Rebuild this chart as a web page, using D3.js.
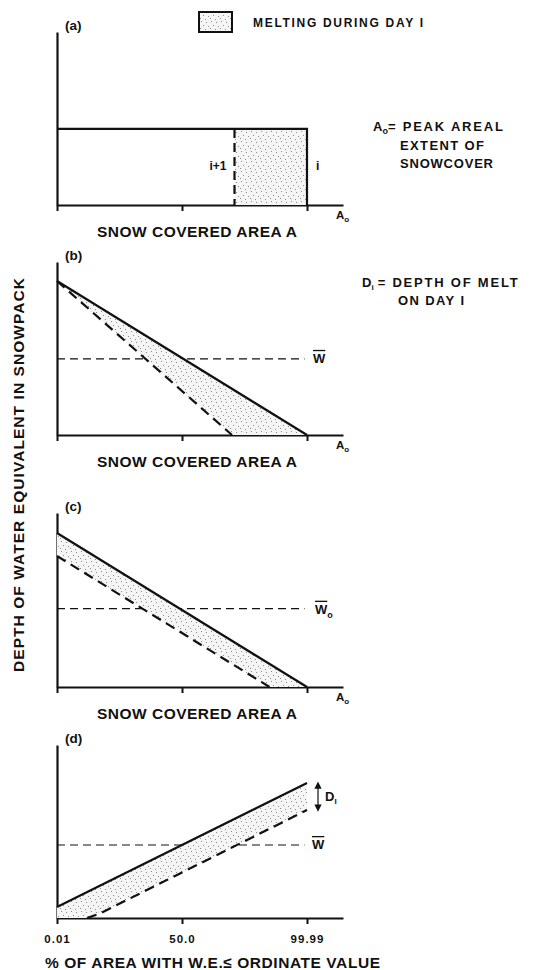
<!DOCTYPE html>
<html>
<head>
<meta charset="utf-8">
<script src="https://cdn.jsdelivr.net/npm/d3@7"></script>
<style>
  html, body { margin: 0; padding: 0; background: #fff; }
  svg { display: block; }
  text { font-family: "Liberation Sans", Arial, sans-serif; font-weight: bold; fill: #111; }
</style>
</head>
<body>
<script>
// Areal depletion of snowcover: four schematic panels.
// x values are fractions of the peak areal extent A0 (0..1), y values are
// relative water-equivalent depth (0..1).

const panelLetters = ["(a)", "(b)", "(c)", "(d)"];
const xTickValues = [0, 0.5, 1];
const probTickLabels = ["0.01", "50.0", "99.99"];

// (a) uniform snowpack: depth and snow-covered extent on day i and day i+1
const uniformDepth = 0.44;
const extentDayI = 1.0;
const extentDayI1 = 0.71;

// (b) depth vs covered area, same maximum depth
const bDayI = [[0, 0.89], [1, 0]];
const bDayI1 = [[0, 0.89], [0.70, 0]];
const bMean = 0.44;

// (c) depth vs covered area, uniform melt
const cDayI = [[0, 0.885], [1, 0]];
const cDayI1 = [[0, 0.753], [0.85, 0]];
const cMean = 0.45;

// (d) depth vs cumulative probability of area
const dDayI = [[0, 0.064], [1, 0.78]];
const dDayI1 = [[0.12, 0], [0.17, 0.025], [1, 0.624]];
const dMean = 0.422;

const W = 552, H = 970;
const svg = d3.select("body").append("svg").attr("width", W).attr("height", H);

// Stipple fill for the melt area
const defs = svg.append("defs");
const pat = defs.append("pattern").attr("id", "stipple")
  .attr("patternUnits", "userSpaceOnUse").attr("width", 10).attr("height", 10);
pat.append("rect").attr("width", 10).attr("height", 10).attr("fill", "#f5f5f5");
[[1,1],[6,2],[3,5],[8,6],[0,8],[5,9]].forEach(([px, py]) =>
  pat.append("rect").attr("x", px).attr("y", py).attr("width", 1).attr("height", 1).attr("fill", "#8a8a8a"));

const arrowMarker = (id, orient) => defs.append("marker").attr("id", id)
  .attr("viewBox", "0 0 10 10").attr("refX", 5).attr("refY", 5)
  .attr("markerWidth", 6).attr("markerHeight", 6).attr("orient", orient)
  .append("path").attr("d", "M0,0 L10,5 L0,10 z").attr("fill", "#111");
arrowMarker("arrowEnd", "auto");
arrowMarker("arrowStart", "auto-start-reverse");

const x = d3.scaleLinear().domain([0, 1]).range([57, 307]);
const xAxisEnd = 1.144;

const layout = [
  { top: 32, base: 205 },
  { top: 262, base: 435 },
  { top: 513, base: 687 },
  { top: 745, base: 918 }
];

function drawFrame(i, withTickLabels) {
  const { top, base } = layout[i];
  const y = d3.scaleLinear().domain([0, 1]).range([base, top]);
  const g = svg.append("g");

  const xs = d3.scaleLinear().domain([0, xAxisEnd]).range([x(0), x(xAxisEnd)]);
  const ax = d3.axisBottom(xs).tickValues(xTickValues).tickSize(6).tickSizeOuter(0)
    .tickFormat(withTickLabels ? (d, k) => probTickLabels[k] : () => "");
  const axG = g.append("g").attr("transform", `translate(0,${base})`).call(ax);
  axG.select(".domain").attr("stroke", "#111").attr("stroke-width", 2.2);
  axG.selectAll(".tick line").attr("stroke", "#111").attr("stroke-width", 2);
  axG.selectAll(".tick text").attr("dy", 0).attr("y", 25)
    .style("font-family", "'Liberation Sans', Arial, sans-serif")
    .style("font-weight", "bold").style("font-size", "11.5px").attr("fill", "#111")
    .attr("letter-spacing", "1px");

  const ay = d3.axisLeft(y).tickValues([]).tickSizeOuter(0);
  const ayG = g.append("g").attr("transform", `translate(${x(0)},0)`).call(ay);
  ayG.select(".domain").attr("stroke", "#111").attr("stroke-width", 2.2);

  g.append("text").attr("x", x(0) + 8).attr("y", top - 2)
    .style("font-size", "13.5px").text(panelLetters[i]);
  return { g, y };
}

const lineGen = (y) => d3.line().x(d => x(d[0])).y(d => y(d[1]));

function meltPolygon(upper, lower) {
  const low = lower.slice();
  if (low[0][0] > 0) low.unshift([0, 0]);
  if (low[low.length - 1][0] < 1) low.push([1, 0]);
  return upper.concat(low.reverse());
}

function drawCurves(g, y, dayI, dayI1) {
  g.append("path").datum(meltPolygon(dayI, dayI1))
    .attr("d", lineGen(y).curve(d3.curveLinearClosed))
    .attr("fill", "url(#stipple)").attr("stroke", "none");
  g.append("path").datum(dayI1).attr("d", lineGen(y))
    .attr("fill", "none").attr("stroke", "#111").attr("stroke-width", 2.2)
    .attr("stroke-dasharray", "10,6");
  g.append("path").datum(dayI).attr("d", lineGen(y))
    .attr("fill", "none").attr("stroke", "#111").attr("stroke-width", 2.2);
}

function drawMean(g, y, v) {
  g.append("line").attr("x1", x(0)).attr("x2", x(0.99)).attr("y1", y(v)).attr("y2", y(v))
    .attr("stroke", "#111").attr("stroke-width", 1.2).attr("stroke-dasharray", "8,5");
}

function meanLabel(g, xp, yp, sub) {
  const t = g.append("text").attr("x", xp).attr("y", yp).style("font-size", "13px");
  t.append("tspan").style("text-decoration", "overline").text("W");
  if (sub) t.append("tspan").attr("dy", 4).style("font-size", "9px").text(sub);
}

function a0Label(g, base) {
  const t = g.append("text").attr("x", x(xAxisEnd) - 7).attr("y", base + 14).style("font-size", "11.5px");
  t.append("tspan").text("A");
  t.append("tspan").attr("dy", 3).style("font-size", "8px").text("o");
}

function areaTitle(g, base) {
  g.append("text").attr("x", 97).attr("y", base + 32).style("font-size", "15.5px")
    .attr("textLength", 200).attr("lengthAdjust", "spacing").text("SNOW COVERED AREA A");
}

// ---- (a)
{
  const { g, y } = drawFrame(0, false);
  g.append("rect").attr("x", x(extentDayI1)).attr("y", y(uniformDepth))
    .attr("width", x(extentDayI) - x(extentDayI1)).attr("height", y(0) - y(uniformDepth))
    .attr("fill", "url(#stipple)");
  g.append("path").datum([[0, uniformDepth], [extentDayI, uniformDepth], [extentDayI, 0]])
    .attr("d", lineGen(y)).attr("fill", "none").attr("stroke", "#111").attr("stroke-width", 2.2);
  g.append("line").attr("x1", x(extentDayI1)).attr("x2", x(extentDayI1))
    .attr("y1", y(uniformDepth)).attr("y2", y(0))
    .attr("stroke", "#111").attr("stroke-width", 2.2).attr("stroke-dasharray", "9,5");
  g.append("text").attr("x", x(extentDayI1) - 8).attr("y", y(0) - 35)
    .attr("text-anchor", "end").style("font-size", "12px").text("i+1");
  g.append("text").attr("x", x(extentDayI) + 9).attr("y", y(0) - 35)
    .style("font-size", "12px").text("i");
  a0Label(g, y(0));
  areaTitle(g, y(0));

  // legend
  svg.append("rect").attr("x", 199).attr("y", 12).attr("width", 33).attr("height", 20)
    .attr("fill", "url(#stipple)").attr("stroke", "#111").attr("stroke-width", 2);
  svg.append("text").attr("x", 253).attr("y", 27).style("font-size", "12px")
    .attr("textLength", 170).attr("lengthAdjust", "spacing").text("MELTING DURING DAY I");

  // A0 definition
  const t0 = svg.append("text").attr("x", 373).attr("y", 131).style("font-size", "13px");
  t0.append("tspan").text("A");
  t0.append("tspan").attr("dy", 3).style("font-size", "9px").text("o");
  t0.append("tspan").attr("dy", -3).attr("textLength", 115).attr("lengthAdjust", "spacing").text("= PEAK AREAL");
  svg.append("text").attr("x", 400).attr("y", 150).style("font-size", "13px")
    .attr("textLength", 84).attr("lengthAdjust", "spacing").text("EXTENT OF");
  svg.append("text").attr("x", 400).attr("y", 168).style("font-size", "13px")
    .attr("textLength", 93).attr("lengthAdjust", "spacing").text("SNOWCOVER");
}

// ---- (b)
{
  const { g, y } = drawFrame(1, false);
  drawMean(g, y, bMean);
  drawCurves(g, y, bDayI, bDayI1);
  meanLabel(g, x(1) + 6, y(bMean) + 4, null);
  a0Label(g, y(0));
  areaTitle(g, y(0));

  const td = svg.append("text").attr("x", 362).attr("y", 287).style("font-size", "13px");
  td.append("tspan").text("D");
  td.append("tspan").attr("dy", 3).style("font-size", "8px").text("i");
  td.append("tspan").attr("dy", -3).attr("dx", 4).attr("textLength", 140).attr("lengthAdjust", "spacing").text("= DEPTH OF MELT");
  svg.append("text").attr("x", 398).attr("y", 305).style("font-size", "13px")
    .attr("textLength", 66).attr("lengthAdjust", "spacing").text("ON DAY I");
}

// ---- (c)
{
  const { g, y } = drawFrame(2, false);
  drawMean(g, y, cMean);
  drawCurves(g, y, cDayI, cDayI1);
  meanLabel(g, x(1) + 8, y(cMean) + 5, "o");
  a0Label(g, y(0));
  areaTitle(g, y(0));
}

// ---- (d)
{
  const { g, y } = drawFrame(3, true);
  drawMean(g, y, dMean);
  drawCurves(g, y, dDayI, dDayI1);
  meanLabel(g, x(1) + 5, y(dMean) + 4, null);

  const top = dDayI[dDayI.length - 1][1], bot = dDayI1[dDayI1.length - 1][1];
  g.append("line").attr("x1", x(1) + 11).attr("x2", x(1) + 11)
    .attr("y1", y(top) + 2).attr("y2", y(bot) - 2)
    .attr("stroke", "#111").attr("stroke-width", 1.2)
    .attr("marker-start", "url(#arrowStart)").attr("marker-end", "url(#arrowEnd)");
  const tD = g.append("text").attr("x", x(1) + 18).attr("y", (y(top) + y(bot)) / 2 + 4)
    .style("font-size", "13px");
  tD.append("tspan").text("D");
  tD.append("tspan").attr("dy", 3).style("font-size", "8px").text("I");

  g.append("text").attr("x", 45).attr("y", 968).style("font-size", "15.5px")
    .attr("textLength", 335).attr("lengthAdjust", "spacing")
    .text("% OF AREA WITH W.E.\u2264 ORDINATE VALUE");
}

// shared y-axis title
svg.append("text").attr("transform", "translate(24,475) rotate(-90)")
  .attr("text-anchor", "middle").style("font-size", "15.5px")
  .attr("textLength", 394).attr("lengthAdjust", "spacing")
  .text("DEPTH OF WATER EQUIVALENT IN SNOWPACK");
</script>
</body>
</html>
